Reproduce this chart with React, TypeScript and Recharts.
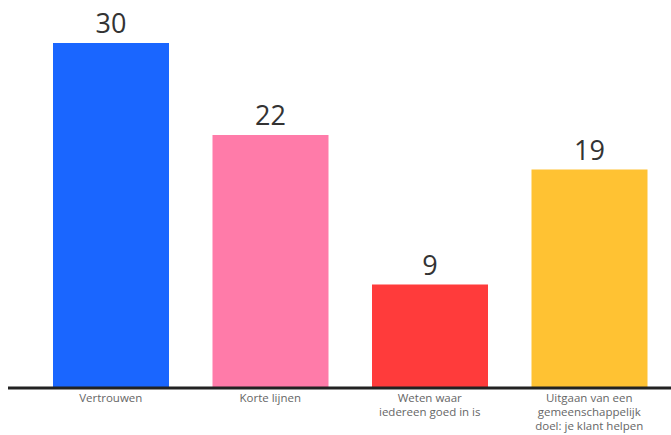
import { BarChart, Bar, XAxis, YAxis, Cell, LabelList } from 'recharts';

const categories = [
  'Vertrouwen',
  'Korte lijnen',
  'Weten waar\niedereen goed in is',
  'Uitgaan van een\ngemeenschappelijk\ndoel: je klant helpen',
];
const values = [30, 22, 9, 19];
const colors = ['#1a66ff', '#ff7ba9', '#ff3b3b', '#ffc233'];

const data = categories.map((name, i) => ({ name, value: values[i] }));

function MultiLineTick(props: any) {
  const { x, y, payload } = props;
  const lines = String(payload.value).split('\n');
  return (
    <text x={x} y={y} textAnchor="middle" fill="#666" fontSize={11.5} fontFamily="'Open Sans', sans-serif">
      {lines.map((line, i) => (
        <tspan key={i} x={x} dy={i === 0 ? 6 : 14}>
          {line}
        </tspan>
      ))}
    </text>
  );
}

export default function App() {
  return (
    <div style={{ position: 'absolute', top: 0, left: 0, width: 671, height: 435, overflow: 'hidden' }}>
      <BarChart
        width={671}
        height={435}
        data={data}
        margin={{ top: 43, right: 0, bottom: 0, left: 8 }}
        barCategoryGap={22}
      >
        <XAxis
          dataKey="name"
          interval={0}
          height={47}
          padding={{ left: 23, right: 2 }}
          axisLine={{ stroke: '#222', strokeWidth: 3 }}
          tickLine={false}
          tick={<MultiLineTick />}
        />
        <YAxis hide domain={[0, 30]} />
        <Bar dataKey="value" isAnimationActive={false}>
          {data.map((d, i) => (
            <Cell key={d.name} fill={colors[i]} />
          ))}
          <LabelList
            dataKey="value"
            position="top"
            offset={10}
            fill="#333"
            fontSize={27}
            fontFamily="'Open Sans', sans-serif"
          />
        </Bar>
      </BarChart>
    </div>
  );
}
